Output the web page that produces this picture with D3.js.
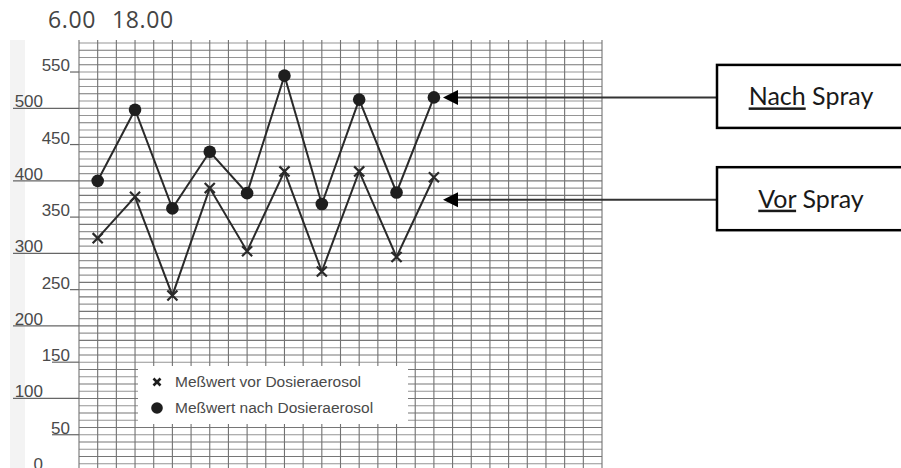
<!DOCTYPE html>
<html>
<head>
<meta charset="utf-8">
<script src="https://cdn.jsdelivr.net/npm/d3@7"></script>
<style>
  html, body { margin: 0; padding: 0; background: #fff; }
  svg { display: block; }
</style>
</head>
<body>
<div id="vis-display"></div>
<script>
// Peak-flow chart: readings before / after the spray, scanned grid look.

const MEASUREMENTS = [1, 2, 3, 4, 5, 6, 7, 8, 9, 10];
const VOR_VALUES   = [321, 378, 242, 390, 303, 413, 275, 413, 295, 405];
const NACH_VALUES  = [400, 498, 362, 440, 383, 545, 368, 512, 384, 515];

const Y_TICKS  = [0, 50, 100, 150, 200, 250, 300, 350, 400, 450, 500, 550];
const TIME_LABELS = ["6.00", "18.00"];

const LEGEND = [
  { type: "x",   label: "Meßwert vor Dosieraerosol" },
  { type: "dot", label: "Meßwert nach Dosieraerosol" },
];

// callouts: underlined word + rest, arrow pointing at a value on the y scale
const CALLOUTS = [
  { under: "Nach", rest: " Spray", target: 515 },
  { under: "Vor",  rest: " Spray", target: 374 },
];

const W = 901, H = 468;
const INK = "#2a2a2a";

const svg = d3.select("#vis-display").append("svg").attr("width", W).attr("height", H);

// 28 grid columns, two per measurement
const xScale = d3.scaleLinear().domain([0, 14]).range([79, 602]);
const yScale = d3.scaleLinear().domain([0, 590]).range([471, 43]);
const xPos = m => xScale(m - 0.5);

// ── scanned paper edge ──────────────────────────────────────────────────────
svg.append("rect").attr("x", 10).attr("y", 40).attr("width", 15).attr("height", H - 40)
  .attr("fill", "#f3f3f3");

// ── grid ────────────────────────────────────────────────────────────────────
const grid = svg.append("g");
grid.selectAll("line.h").data(d3.range(0, 591, 10)).join("line")
  .attr("class", "h")
  .attr("x1", xScale(0)).attr("x2", xScale(14))
  .attr("y1", d => yScale(d)).attr("y2", d => yScale(d))
  .attr("stroke", d => (d / 10) % 2 ? "#959595" : "#767676").attr("stroke-width", 1.1);

grid.selectAll("line.v").data(d3.range(0, 14.01, 0.5)).join("line")
  .attr("class", "v")
  .attr("x1", d => xScale(d)).attr("x2", d => xScale(d))
  .attr("y1", 40).attr("y2", H)
  .attr("stroke", "#727272").attr("stroke-width", 1.1);

// ── y labels, each sitting on its own rule ─────────────────────────────────
const yAxis = svg.append("g")
  .style("font-family", "'Liberation Sans', Arial, sans-serif")
  .style("font-size", "17px").style("fill", "#4a4a4a");

Y_TICKS.forEach(v => {
  const y = yScale(v);
  const major = v % 100 === 0;
  const x0 = major ? 13 : (v < 200 ? 52 : 70);
  yAxis.append("line")
    .attr("x1", x0).attr("x2", xScale(0)).attr("y1", y).attr("y2", y)
    .attr("stroke", "#666").attr("stroke-width", 1.2);
  yAxis.append("text")
    .attr("x", major ? 43 : 70).attr("y", y - 1)
    .attr("text-anchor", "end")
    .text(v);
});

// ── time labels ─────────────────────────────────────────────────────────────
svg.append("g")
  .style("font-family", "'Open Sans', Lato, sans-serif").style("font-size", "23px")
  .style("letter-spacing", "0.6px").style("fill", "#444")
  .selectAll("text").data(TIME_LABELS).join("text")
  .attr("x", (d, i) => i === 0 ? 48 : 112).attr("y", 28)
  .text(d => d);

// ── series ──────────────────────────────────────────────────────────────────
const lineGen = d3.line().x(d => xPos(d.m)).y(d => yScale(d.v));
const vorPts  = MEASUREMENTS.map((m, i) => ({ m, v: VOR_VALUES[i] }));
const nachPts = MEASUREMENTS.map((m, i) => ({ m, v: NACH_VALUES[i] }));

[vorPts, nachPts].forEach(pts => {
  svg.append("path").datum(pts)
    .attr("fill", "none").attr("stroke", INK).attr("stroke-width", 2)
    .attr("d", lineGen);
});

const xSym = d3.symbol().type(d3.symbolX).size(68);
svg.append("g").selectAll("path").data(vorPts).join("path")
  .attr("transform", d => `translate(${xPos(d.m)},${yScale(d.v)})`)
  .attr("d", xSym).attr("fill", "none").attr("stroke", INK).attr("stroke-width", 2.2);

svg.append("g").selectAll("circle").data(nachPts).join("circle")
  .attr("cx", d => xPos(d.m)).attr("cy", d => yScale(d.v))
  .attr("r", 6.3).attr("fill", "#1e1e1e");

// ── legend (white patch over the grid) ─────────────────────────────────────
const lg = svg.append("g");
lg.append("rect").attr("x", 138).attr("y", 366).attr("width", 270).attr("height", 58).attr("fill", "#fff");
LEGEND.forEach((d, i) => {
  const cy = 382 + i * 26;
  if (d.type === "x") {
    lg.append("path").attr("transform", `translate(157,${cy})`)
      .attr("d", d3.symbol().type(d3.symbolX).size(34))
      .attr("stroke", "#1e1e1e").attr("stroke-width", 2.6).attr("fill", "none");
  } else {
    lg.append("circle").attr("cx", 157).attr("cy", cy).attr("r", 5.8).attr("fill", "#1e1e1e");
  }
  lg.append("text").attr("x", 175).attr("y", cy + 5)
    .style("font-family", "'Liberation Sans', Arial, sans-serif").style("font-size", "15.5px")
    .style("fill", "#4a4a4a")
    .text(d.label);
});

// ── callouts with arrows ────────────────────────────────────────────────────
const boxX = 717, boxH = 63;
const co = svg.append("g");
CALLOUTS.forEach(c => {
  const y = yScale(c.target);
  co.append("line").attr("x1", 456).attr("x2", boxX).attr("y1", y).attr("y2", y)
    .attr("stroke", "#333").attr("stroke-width", 2);
  co.append("path")
    .attr("d", `M${443},${y}L${458},${y - 7.5}L${458},${y + 7.5}Z`)
    .attr("fill", "#000");
  co.append("rect").attr("x", boxX).attr("y", y - boxH / 2 - 1).attr("width", 200).attr("height", boxH)
    .attr("fill", "#fff").attr("stroke", "#000").attr("stroke-width", 2.5);
  const t = co.append("text").attr("x", 811).attr("y", y + 8).attr("text-anchor", "middle")
    .style("font-family", "Lato, 'Open Sans', sans-serif").style("font-size", "25px").style("fill", "#1a1a1a");
  t.append("tspan").style("text-decoration", "underline").text(c.under);
  t.append("tspan").text(c.rest);
});
</script>
</body>
</html>
